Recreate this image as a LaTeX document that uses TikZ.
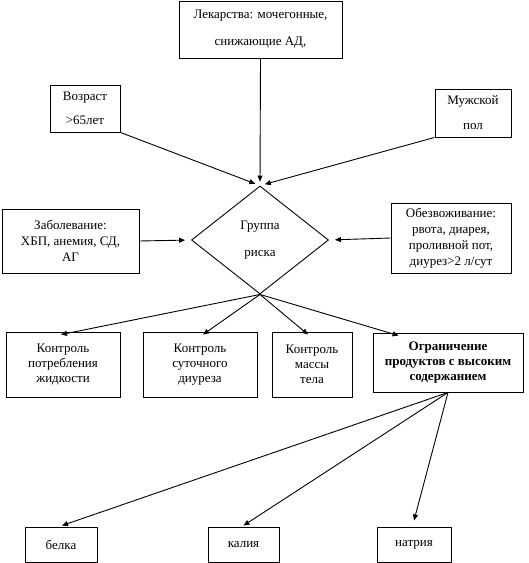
\documentclass[tikz,border=0pt]{standalone}
\usepackage{fontspec}
\setmainfont{Liberation Serif}
\usetikzlibrary{arrows.meta,shapes.geometric,calc}
\begin{document}
\begin{tikzpicture}[x=1pt,y=-1pt,
  box/.style={draw,line width=0.9pt,inner sep=0pt,align=center,font=\fontsize{13}{16}\selectfont},
  arr/.style={-{Triangle[length=6pt,width=5pt]},line width=0.9pt}]
\useasboundingbox (0,0) rectangle (529,563);
% top row
\node[box,minimum width=163pt,minimum height=57pt,font=\fontsize{13}{27}\selectfont] (lek) at (260.5,29.5) {Лекарства: мочегонные,\\снижающие АД,};
\node[box,minimum width=70pt,minimum height=47pt,font=\fontsize{13}{24}\selectfont] (voz) at (85,108.5) {Возраст\\>65лет};
\node[box,minimum width=76pt,minimum height=48pt,font=\fontsize{13}{25}\selectfont] (muzh) at (473,113) {Мужской\\пол};
% diamond
\node[box,shape=diamond,minimum width=137pt,minimum height=108pt,font=\fontsize{13}{27}\selectfont] (dia) at (260,240) {Группа\\риска};
% side boxes
\node[box,minimum width=137pt,minimum height=64pt] (zab) at (70.5,241) {Заболевание:\\ХБП, анемия, СД,\\АГ};
\node[box,minimum width=120pt,minimum height=70pt] (obez) at (451,238) {Обезвоживание:\\рвота, диарея,\\проливной пот,\\диурез>2 л/сут};
% control row
\node[box,minimum width=114pt,minimum height=65pt,font=\fontsize{13}{15}\selectfont] (k1) at (63,364.5) {Контроль\\потребления\\жидкости};
\node[box,minimum width=114pt,minimum height=65pt,font=\fontsize{13}{15}\selectfont] (k2) at (200,364.5) {Контроль\\суточного\\диуреза};
\node[box,minimum width=80pt,minimum height=65pt,font=\fontsize{13}{15}\selectfont] (k3) at (312,364.5) {Контроль\\массы\\тела};
\node[box,minimum width=150pt,minimum height=59pt,font=\fontsize{13}{15}\selectfont\bfseries] (ogr) at (448,362.5) {Ограничение\\продуктов с высоким\\содержанием};
% bottom row
\node[box,minimum width=72pt,minimum height=35pt] (bel) at (61,544.5) {белка};
\node[box,minimum width=71pt,minimum height=35pt] (kal) at (243.5,544.5) {калия};
\node[box,minimum width=74pt,minimum height=35pt] (nat) at (414,544.5) {натрия};
% arrows in
\draw[arr,shorten >=4pt] (lek.south) -- (dia.north);
\draw[arr,shorten >=5pt] (voz.south east) -- (dia.north);
\draw[arr,shorten >=5pt] (muzh.south west) -- (dia.north);
\draw[arr,shorten >=6pt] (zab.east) -- (dia.west);
\draw[arr,shorten >=6pt] (obez.west) -- (dia.east);
% arrows out
\draw[arr] (dia.south) -- ($(k1.north)+(-2,3)$);
\draw[arr] (dia.south) -- ($(k2.north)+(3,3)$);
\draw[arr] (dia.south) -- ($(k3.north)+(-4,3)$);
\draw[arr] (dia.south) -- ($(ogr.north west)+(26,3)$);
\draw[arr] (ogr.south) -- ($(bel.north)+(1,-1)$);
\draw[arr] (ogr.south) -- ($(kal.north)+(0,-1)$);
\draw[arr] (ogr.south) -- ($(nat.north)+(0,-6)$);
\end{tikzpicture}
\end{document}
